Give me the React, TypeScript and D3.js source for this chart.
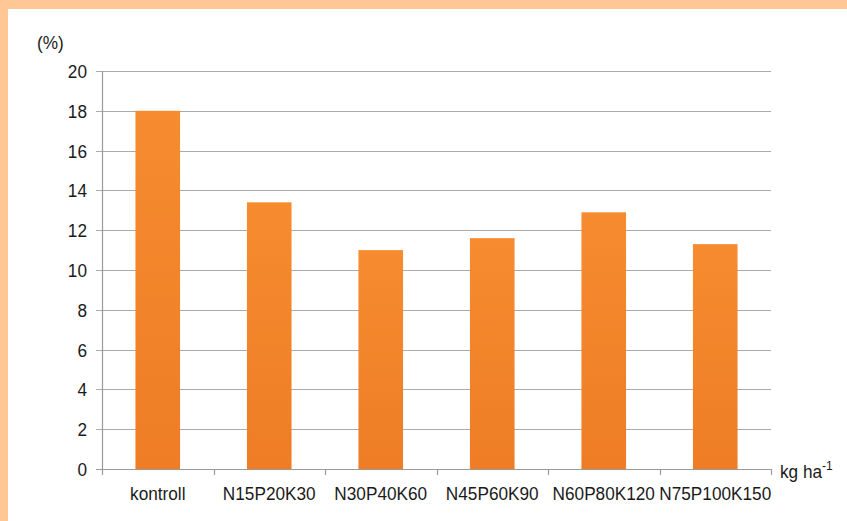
import React from "react";
import * as d3 from "d3";

const categories = ["kontroll", "N15P20K30", "N30P40K60", "N45P60K90", "N60P80K120", "N75P100K150"];
const values = [18.0, 13.4, 11.0, 11.6, 12.9, 11.3];
const yTicks = [0, 2, 4, 6, 8, 10, 12, 14, 16, 18, 20];

const W = 847;
const H = 521;
const margin = { left: 102, right: 76, top: 71, bottom: 52 };
const FONT = "'Liberation Sans', Arial, sans-serif";
const FS = 17.2;
const STRETCH = 1.1;

type LabelProps = {
  x: number;
  y: number;
  anchor?: "start" | "middle" | "end";
  children: React.ReactNode;
};

// Text drawn slightly taller than wide, anchored at its baseline
function Label({ x, y, anchor = "start", children }: LabelProps) {
  return (
    <text
      transform={`translate(${x},${y}) scale(1,${STRETCH})`}
      textAnchor={anchor}
      fontFamily={FONT}
      fontSize={FS}
      fill="#1a1a1a"
    >
      {children}
    </text>
  );
}

export default function App() {
  const x = d3
    .scaleBand<string>()
    .domain(categories)
    .range([margin.left, W - margin.right])
    .paddingInner(0.6)
    .paddingOuter(0.3);
  const y = d3.scaleLinear().domain([0, 20]).range([H - margin.bottom, margin.top]);
  const y0 = y(0);
  const bandStep = (W - margin.right - margin.left) / categories.length;
  const boundaries = d3.range(categories.length + 1).map((i) => margin.left + i * bandStep);

  return (
    <div style={{ position: "fixed", left: 0, top: 0, width: W, height: H, background: "#fff" }}>
      <svg width={W} height={H} style={{ display: "block" }}>
        <defs>
          <linearGradient id="barFill" x1="0" y1="0" x2="0" y2="1">
            <stop offset="0%" stopColor="#F68B2F" />
            <stop offset="100%" stopColor="#EE7D26" />
          </linearGradient>
        </defs>
        <rect x={0} y={0} width={W} height={H} fill="#fff" />
        {/* peach frame along the top and left */}
        <rect x={0} y={0} width={W} height={9} fill="#FFC796" />
        <rect x={0} y={0} width={8} height={H} fill="#FFC796" />

        {/* gridlines and y ticks */}
        {yTicks.map((t) => (
          <g key={t}>
            <line
              x1={margin.left - 6}
              x2={W - margin.right}
              y1={Math.round(y(t)) + 0.5}
              y2={Math.round(y(t)) + 0.5}
              stroke={t === 0 ? "#9a9a9a" : "#ababab"}
              strokeWidth={1.2}
            />
            <Label x={margin.left - 15} y={y(t) + 7} anchor="end">
              {t}
            </Label>
          </g>
        ))}
        {/* y axis line */}
        <line
          x1={margin.left + 0.5}
          x2={margin.left + 0.5}
          y1={y(20)}
          y2={y0}
          stroke="#9a9a9a"
          strokeWidth={1.2}
        />
        {/* category boundary ticks */}
        {boundaries.map((b, i) => (
          <line
            key={i}
            x1={Math.round(b) + 0.5}
            x2={Math.round(b) + 0.5}
            y1={y0}
            y2={y0 + 6}
            stroke="#9a9a9a"
            strokeWidth={1.2}
          />
        ))}

        {/* bars */}
        {categories.map((c, i) => (
          <rect
            key={c}
            x={x(c)}
            y={y(values[i])}
            width={x.bandwidth()}
            height={y0 - y(values[i])}
            fill="url(#barFill)"
          />
        ))}

        {/* category labels */}
        {categories.map((c) => (
          <Label key={c} x={(x(c) as number) + x.bandwidth() / 2} y={500} anchor="middle">
            {c}
          </Label>
        ))}

        <Label x={37} y={49}>
          (%)
        </Label>
        <Label x={780} y={478}>
          kg ha
          <tspan fontSize={12} dy={-7}>
            -1
          </tspan>
        </Label>
      </svg>
    </div>
  );
}
